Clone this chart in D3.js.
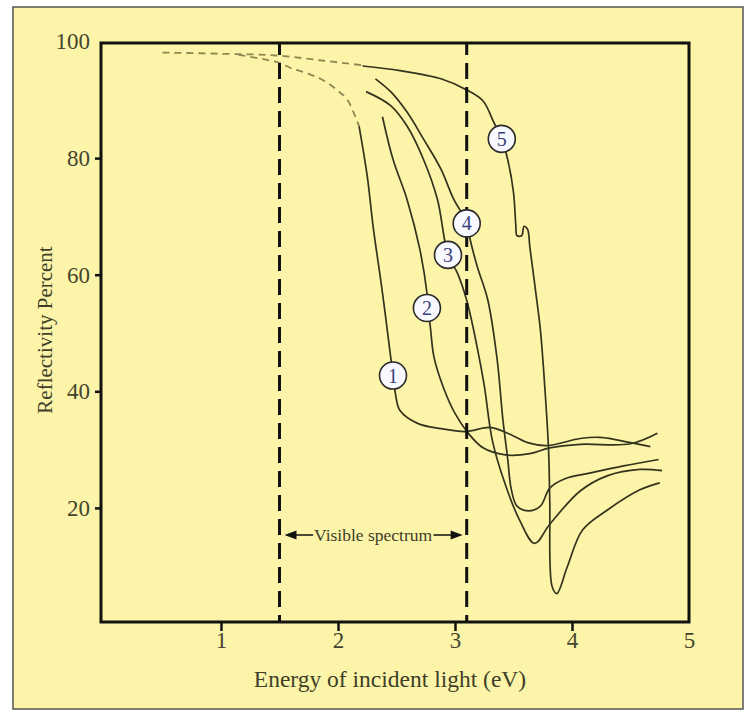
<!DOCTYPE html>
<html>
<head>
<meta charset="utf-8">
<script src="https://cdn.jsdelivr.net/npm/d3@7"></script>
<style>
  html, body { margin: 0; padding: 0; background: #fff; }
  svg { display: block; }
</style>
</head>
<body>
<svg id="chart" width="750" height="714"></svg>
<script>
// values: energy (eV), reflectivity (%)
const xTicks = [1, 2, 3, 4, 5]
const yTicks = [20, 40, 60, 80, 100]
const visibleRange = [1.5, 3.1]

const dashedUpper = [[0.50, 98.1], [1.0, 97.9], [1.47, 97.6], [1.88, 96.7], [2.22, 95.9]]
const dashedLower = [[1.15, 97.7], [1.49, 96.4], [1.59, 95.5], [1.74, 94.5], [1.87, 93.4],
  [1.99, 91.7], [2.08, 90.0], [2.15, 87.0], [2.18, 85.5]]

const curve1 = [[2.18, 85.5], [2.25, 76.9], [2.30, 68.3], [2.38, 56.9], [2.45, 45.9], [2.47, 42.8],
  [2.49, 39.7], [2.53, 36.7], [2.68, 34.5], [2.88, 33.6], [3.09, 33.1], [3.30, 33.8], [3.45, 32.8],
  [3.62, 31.2], [3.79, 30.7], [4.07, 31.9], [4.24, 32.1], [4.50, 31.2], [4.67, 30.5]]
const curve2 = [[2.38, 87.1], [2.47, 79.8], [2.59, 72.9], [2.70, 64.3], [2.76, 56.9], [2.77, 54.3],
  [2.79, 50.9], [2.82, 45.9], [2.90, 40.7], [3.00, 36.2], [3.11, 32.9], [3.24, 30.3], [3.43, 29.1],
  [3.64, 29.3], [3.81, 30.3], [4.07, 30.9], [4.50, 31.0], [4.73, 32.8]]
const curve3 = [[2.24, 91.4], [2.45, 89.0], [2.59, 85.5], [2.73, 79.8], [2.85, 72.9], [2.94, 63.4],
  [3.02, 60.3], [3.10, 55.6], [3.19, 47.5], [3.25, 41.0], [3.32, 31.5], [3.43, 24.0], [3.55, 18.0],
  [3.68, 13.9], [3.81, 17.2], [4.07, 22.9], [4.30, 25.5], [4.58, 26.6], [4.77, 26.4]]
const curve4 = [[2.32, 93.6], [2.45, 91.4], [2.59, 87.9], [2.73, 83.3], [2.88, 78.1], [2.99, 72.9],
  [3.10, 69.0], [3.13, 66.0], [3.19, 61.4], [3.28, 55.7], [3.36, 45.5], [3.41, 35.0], [3.45, 28.5],
  [3.48, 23.3], [3.53, 20.3], [3.63, 19.5], [3.73, 20.3], [3.81, 23.4], [3.94, 25.0], [4.16, 26.0],
  [4.44, 27.2], [4.74, 28.3]]
const curve5 = [[2.21, 95.8], [2.53, 95.0], [2.88, 93.6], [3.10, 91.7], [3.24, 89.8], [3.33, 86.2],
  [3.40, 83.3], [3.45, 79.8], [3.50, 74.1], [3.52, 68.4], [3.53, 66.7], [3.57, 66.7], [3.59, 68.3],
  [3.62, 67.8], [3.64, 64.7], [3.69, 57.0], [3.73, 50.5], [3.77, 40.0], [3.80, 29.8], [3.81, 21.2],
  [3.83, 6.5], [3.87, 5.3], [3.96, 9.9], [4.09, 16.2], [4.30, 19.6], [4.58, 23.1], [4.75, 24.3]]

const curves = [curve1, curve2, curve3, curve4, curve5]
const curveLabels = ["1", "2", "3", "4", "5"]
const labelPoints = [[2.47, 42.7], [2.76, 54.3], [2.94, 63.4], [3.10, 68.8], [3.40, 83.3]]

const serif = "'Liberation Serif', 'DejaVu Serif', serif"
const box = { left: 101, right: 689, top: 43, bottom: 622 }

const svg = d3.select("#chart")
const x = d3.scaleLinear().domain([0, 5]).range([104, 689])
const y = d3.scaleLinear().domain([0, 100]).range([624.5, 41.5])

// outer panel
svg.append("rect")
  .attr("x", 13).attr("y", 7).attr("width", 730).attr("height", 702)
  .attr("fill", "#fcf4a8").attr("stroke", "#555").attr("stroke-width", 1.5)

const line = d3.line()
  .x(d => x(d[0])).y(d => y(d[1]))
  .curve(d3.curveCatmullRom.alpha(0.5))

// extrapolated parts
svg.append("g")
  .selectAll("path")
  .data([dashedUpper, dashedLower])
  .join("path")
  .attr("d", line)
  .attr("fill", "none")
  .attr("stroke", "#8c8752")
  .attr("stroke-width", 1.8)
  .attr("stroke-dasharray", "7,5")

svg.append("g")
  .selectAll("path")
  .data(curves)
  .join("path")
  .attr("d", line)
  .attr("fill", "none")
  .attr("stroke", "#33331e")
  .attr("stroke-width", 1.7)

// visible spectrum limits
svg.append("g")
  .selectAll("line")
  .data(visibleRange)
  .join("line")
  .attr("x1", d => x(d)).attr("x2", d => x(d))
  .attr("y1", box.top).attr("y2", box.bottom)
  .attr("stroke", "#111")
  .attr("stroke-width", 3)
  .attr("stroke-dasharray", "16,8")
  .attr("stroke-dashoffset", 4)

svg.append("rect")
  .attr("x", box.left).attr("y", box.top)
  .attr("width", box.right - box.left).attr("height", box.bottom - box.top)
  .attr("fill", "none").attr("stroke", "#111").attr("stroke-width", 3)

// axes
const styleAxis = g => {
  g.select(".domain").remove()
  g.selectAll(".tick line").attr("stroke", "#111").attr("stroke-width", 2.5)
  g.selectAll(".tick text")
    .attr("fill", "#45452f")
    .style("font-family", serif)
    .style("font-size", "23px")
}

svg.append("g")
  .attr("transform", `translate(0,${box.bottom})`)
  .call(d3.axisBottom(x).tickValues(xTicks).tickSize(9).tickSizeOuter(0).tickPadding(1).tickFormat(d3.format("d")))
  .call(styleAxis)
  .call(g => g.selectAll(".tick line").filter(d => d === 5).remove())

svg.append("g")
  .attr("transform", `translate(${box.left},0)`)
  .call(d3.axisLeft(y).tickValues(yTicks).tickSize(6).tickSizeOuter(0).tickPadding(5).tickFormat(d3.format("d")))
  .call(styleAxis)
  .call(g => g.selectAll(".tick line").filter(d => d === 100).remove())

svg.append("text")
  .attr("x", 390).attr("y", 687)
  .attr("text-anchor", "middle")
  .attr("fill", "#3e3e2a")
  .style("font-family", serif).style("font-size", "23.5px")
  .text("Energy of incident light (eV)")

svg.append("text")
  .attr("transform", "translate(52,330) rotate(-90)")
  .attr("text-anchor", "middle")
  .attr("fill", "#3e3e2a")
  .style("font-family", serif).style("font-size", "21px")
  .text("Reflectivity Percent")

// "Visible spectrum" double arrow
const arrowY = 535
const vis = svg.append("text")
  .attr("x", (x(visibleRange[0]) + x(visibleRange[1])) / 2)
  .attr("y", arrowY)
  .attr("dy", "0.33em")
  .attr("text-anchor", "middle")
  .attr("fill", "#3e3e2a")
  .style("font-family", serif).style("font-size", "17.5px")
  .text("Visible spectrum")
const bb = vis.node().getBBox()
const tipL = x(visibleRange[0]) + 5, tipR = x(visibleRange[1]) - 4
svg.append("line").attr("x1", tipL + 6).attr("x2", bb.x - 1).attr("y1", arrowY).attr("y2", arrowY)
  .attr("stroke", "#111").attr("stroke-width", 1.5)
svg.append("line").attr("x1", bb.x + bb.width + 1).attr("x2", tipR - 6).attr("y1", arrowY).attr("y2", arrowY)
  .attr("stroke", "#111").attr("stroke-width", 1.5)
svg.append("path").attr("d", `M${tipL},${arrowY}L${tipL + 12},${arrowY - 4.5}L${tipL + 12},${arrowY + 4.5}Z`).attr("fill", "#111")
svg.append("path").attr("d", `M${tipR},${arrowY}L${tipR - 12},${arrowY - 4.5}L${tipR - 12},${arrowY + 4.5}Z`).attr("fill", "#111")

// curve number badges
const badge = svg.append("g")
  .selectAll("g")
  .data(labelPoints)
  .join("g")
  .attr("transform", d => `translate(${x(d[0])},${y(d[1])})`)
badge.append("circle")
  .attr("r", 13.5)
  .attr("fill", "#f8f9ff")
  .attr("stroke", "#2a2a2a")
  .attr("stroke-width", 1.6)
badge.append("text")
  .attr("text-anchor", "middle")
  .attr("dy", "0.35em")
  .attr("fill", "#3b3f7a")
  .style("font-family", serif).style("font-size", "20px")
  .text((d, i) => curveLabels[i])
</script>
</body>
</html>
